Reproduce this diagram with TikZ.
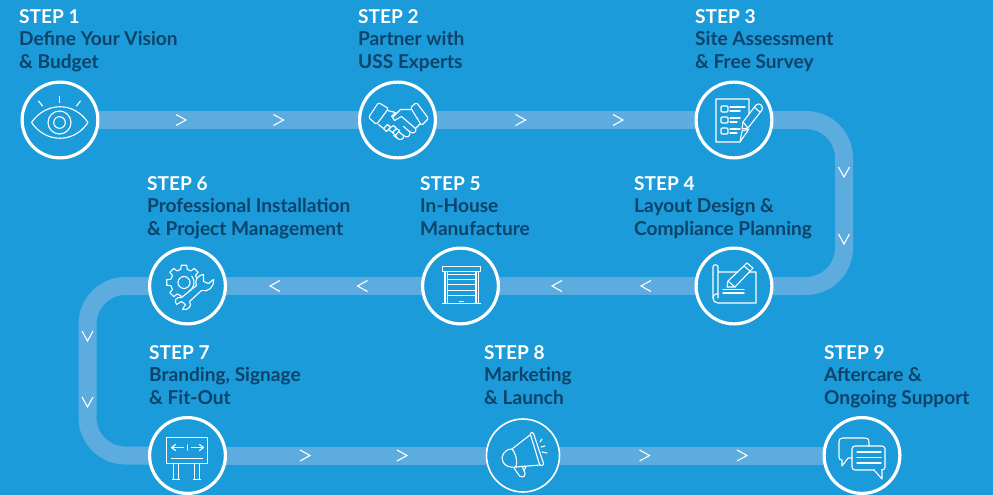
\documentclass[tikz,border=0pt]{standalone}
\usepackage{xcolor}
\definecolor{StepBlue}{HTML}{1B9BD9}
\definecolor{TrackBlue}{HTML}{5DACE0}
\definecolor{StepDark}{HTML}{0C436B}
\usepackage{fontspec}
\setmainfont{Lato}
\usepackage{tikz}
\usetikzlibrary{backgrounds}
\tikzset{
	stepcircle/.style={circle,draw=white,fill=StepBlue,line width=3.2pt,minimum size=75.8pt,inner sep=0pt},
	thincircle/.style={stepcircle,line width=1.6pt,minimum size=73pt},
	steptext/.style={anchor=north west,align=left,inner sep=0pt,text=StepDark,font=\fontsize{19.1}{22.5}\selectfont\bfseries},
	track/.style={draw=TrackBlue,line width=18pt,shorten <=-1pt,shorten >=-1pt},
	icon/.style={draw=white,line width=1.1pt,line join=round,line cap=round},
	pics/chevron/.style={code={\draw[white,line width=1.1pt] (-5,-5.5) -- (5,0) -- (-5,5.5);}},
	pics/iconeye/.style={code={
		\draw[icon] (-28.5,3) .. controls (-14,-18) and (14,-18) .. (28,3) .. controls (14,24) and (-14,24) .. cycle;
		\draw[icon] (-0.5,3) circle (11.5);
		\draw[icon] (-0.5,3) circle (5.8);
		\draw[icon] (-0.5,-23) -- (-0.5,-17);
		\draw[icon] (-21.5,-18.5) -- (-17.5,-13.5);
		\draw[icon] (20.5,-18.5) -- (16.5,-13.5);
	}},
	pics/iconhands/.style={code={
		\draw[icon,rounded corners=1.5pt] (-19,-17) -- (-9,-11) -- (-21,5) -- (-29,-2) -- cycle;
		\draw[icon,rounded corners=1.5pt] (13,-12) -- (19,-17) -- (31,-1) -- (24,6) -- cycle;
		\draw[icon] (-10,-9) -- (-2,-7) -- (-6,-3);
		\draw[icon] (13,-10) -- (3,-10) -- (-5,-2) -- (-3,1) -- (4,-3) -- (18,9) -- (23,4);
		\draw[icon] (18,9) .. controls (20,13) and (15,15) .. (12,12) -- (6,7);
		\draw[icon] (12,12) .. controls (14,17) and (9,19) .. (6,16) -- (1,12);
		\draw[icon] (6,16) .. controls (7,20) and (2,21) .. (0,19) -- (-4,16);
		\draw[icon] (-19,5) -- (-14,9);
		\draw[icon] (-14,9) -- (-10,5) -- (-7,8) -- (-11,12) -- cycle;
		\draw[icon] (-7,8) -- (-4,6) -- (-1,9) -- (-5,13) -- (-9,10);
		\draw[icon] (-1,9) -- (2,11) -- (-2,16) -- (-5,13);
		\draw[icon] (-2,16) -- (0,19);
	}},
	pics/iconlist/.style={code={
		\draw[icon] (15,-5) -- (15,-20) -- (-18,-20) -- (-18,23) -- (6,23) -- (15,10) -- (8,12) -- (6,23);
		\foreach \ypos in {-13,-2,9} {
			\draw[icon,rounded corners=1pt] (-13,\ypos) rectangle (-6,\ypos+6);
		}
		\draw[icon] (-4,-12) -- (11,-12);
		\draw[icon] (-4,-8) -- (6,-8);
		\draw[icon] (-4,-1) -- (6,-1);
		\draw[icon] (-4,3) -- (3,3);
		\draw[icon] (-4,10) -- (6,10);
		\draw[icon] (-4,14) -- (3,14);
		\draw[icon,fill=StepBlue] (8,10) -- (9,3) -- (22,-14) .. controls (25,-17) and (30,-13) .. (28,-9) -- (14,9) -- cycle;
		\draw[icon] (9,3) -- (14,9);
		\draw[icon] (20,-12) -- (26,-7);
	}},
	pics/iconplan/.style={code={
		\draw[icon] (-16,8) -- (-16,-19) .. controls (-16,-22) and (-21,-22) .. (-21,-19) -- (-21,12) .. controls (-21,15) and (-19,17) .. (-16,17) -- (22,17) -- (22,-14) -- (-16,-14);
		\draw[icon] (-21,12) .. controls (-21,9) and (-17,7) .. (-16,8) -- (-16,12);
		\draw[icon,fill=StepBlue] (-7,1) -- (-6,-5) -- (13,-23) -- (19,-18) -- (1,1) -- cycle;
		\draw[icon] (-6,-5) -- (1,1);
		\draw[icon] (10,-20) -- (16,-15);
		\draw[icon] (-11,3.5) -- (10,3.5);
		\draw[icon] (-11,7) -- (10,7);
	}},
	pics/icondoor/.style={code={
		\draw[icon] (-18,-19) rectangle (20,-14);
		\draw[icon] (-15.5,-14) -- (-15.5,18);
		\draw[icon] (18,-14) -- (18,18);
		\draw[icon] (-18,18) -- (20,18);
		\draw[icon] (-13,-14) -- (-13,18);
		\draw[icon] (15.5,-14) -- (15.5,18);
		\foreach \ypos in {-11,-6,-1,5,10} {
			\draw[icon] (-13,\ypos) -- (15.5,\ypos);
		}
		\draw[icon] (-1,16) -- (3,16);
	}},
	pics/icongear/.style={code={
		\begin{scope}[shift={(-3.5,-3)}]
			\foreach \ang in {0,45,...,315} {
				\draw[icon] (\ang-14:13.5) -- (\ang-9:17.5) -- (\ang+9:17.5) -- (\ang+14:13.5) -- (\ang+31:13.5);
			}
			\draw[icon] (0,0) circle (6);
			\draw[icon] (-40:10) arc (-40:60:10);
		\end{scope}
		\draw[icon,fill=StepBlue] (16,-11) .. controls (9,-10) and (7,-4) .. (9,0) -- (-6,12) .. controls (-11,11) and (-14,15) .. (-11,19) -- (-6,16) -- (-2,19) -- (-5,24) .. controls (1,25) and (5,20) .. (2,16) -- (14,5) .. controls (20,7) and (27,2) .. (26,-6) -- (21,-2) -- (16,-4) -- cycle;
	}},
	pics/iconsign/.style={code={
		\draw[icon] (-21,-18) rectangle (20,8);
		\draw[icon] (-16,3) -- (15,3);
		\draw[icon] (-16,-8) -- (-4,-8);
		\draw[icon] (-12,-11) -- (-16,-8) -- (-12,-5);
		\draw[icon] (4,-8) -- (16,-8);
		\draw[icon] (12,-11) -- (16,-8) -- (12,-5);
		\draw[icon] (0,-10.5) -- (0,-5.5);
		\foreach \xpos in {-14,7} {
			\draw[icon] (\xpos,8) -- (\xpos,24);
			\draw[icon] (\xpos+5,8) -- (\xpos+5,24);
			\draw[icon] (\xpos-1,24) -- (\xpos+6,24);
		}
	}},
	pics/iconhorn/.style={code={
		\draw[icon,rounded corners=2pt] (6,-22) -- (9,-23) -- (20,10) -- (16,11) -- cycle;
		\draw[icon] (6,-20) -- (-12,-6) .. controls (-20,-6) and (-24,2) .. (-21,7) .. controls (-19,11) and (-14,13) .. (-8,12) -- (16,10);
		\draw[icon] (-12,-6) .. controls (-9,-3) and (-6,5) .. (-8,12);
		\draw[icon,rounded corners=2pt] (-10,13) -- (-3,23) -- (2,20) -- (-2,11);
		\draw[icon] (0,16) -- (2,11);
		\draw[icon] (16,-13) -- (18,-16);
		\draw[icon] (17,-8) -- (21,-9);
		\draw[icon] (18,-3) -- (23,-2);
	}},
	pics/iconchat/.style={code={
		\draw[icon] (7,-9) -- (7,-13) .. controls (7,-16) and (6,-17) .. (3,-17) -- (-19,-17) .. controls (-22,-17) and (-23,-16) .. (-23,-13) -- (-23,2) .. controls (-23,4) and (-22,5) .. (-20,5) -- (-20,11) -- (-14,3) -- (-10,3);
		\draw[icon,rounded corners=3pt] (-10,-9) rectangle (23,15);
		\draw[icon,fill=StepBlue] (12,15) -- (20,24) -- (20,15);
		\draw[StepBlue,line width=1.4pt] (13,15) -- (19,15);
		\foreach \ypos in {-3,2.5,8} {
			\draw[icon] (-5,\ypos) -- (19,\ypos);
		}
	}}
}

\begin{document}
\begin{tikzpicture}[x=1pt,y=-1pt]
		\useasboundingbox (0,0) rectangle (993,495);
		
		\node[stepcircle] (circle1) at (60,120) {};
		\node[stepcircle] (circle2) at (397.5,120) {};
		\node[stepcircle] (circle3) at (734,120) {};
		\node[stepcircle] (circle4) at (734,286) {};
		\node[stepcircle] (circle5) at (460.5,286) {};
		\node[stepcircle] (circle6) at (187.5,286) {};
		\node[stepcircle] (circle7) at (187.5,455.5) {};
		\node[thincircle] (circle8) at (523,455.5) {};
		\node[stepcircle] (circle9) at (862,455.5) {};
		
		\coordinate (cornerA) at (844,120);
		\coordinate (cornerB) at (844,286);
		\coordinate (cornerC) at (87.5,286);
		\coordinate (cornerD) at (87.5,455.5);
		
		\begin{scope}[on background layer]
			\fill[StepBlue] (0,0) rectangle (993,495);
			\draw[track] (circle1) -- (circle2);
			\draw[track] (circle2) -- (circle3);
			\draw[track,rounded corners=38pt] (circle3) -- (cornerA) -- (cornerB) -- (circle4);
			\draw[track] (circle4) -- (circle5);
			\draw[track] (circle5) -- (circle6);
			\draw[track,rounded corners=38pt] (circle6) -- (cornerC) -- (cornerD) -- (circle7);
			\draw[track] (circle7) -- (circle8);
			\draw[track] (circle8) -- (circle9);
		\end{scope}
		
		% arrows along the track
		\foreach \xpos in {181,278.5,520.5,618} \pic at (\xpos,120) {chevron};
		\foreach \xpos in {275,362.5,557,646} \pic[rotate=180] at (\xpos,286) {chevron};
		\foreach \xpos in {305,402,644.5,742} \pic at (\xpos,455.5) {chevron};
		\foreach \ypos in {172,239} \pic[rotate=-90] at (844,\ypos) {chevron};
		\foreach \ypos in {336,402} \pic[rotate=-90] at (87.5,\ypos) {chevron};
		
		\pic at (60,119.5) {iconeye};
		\pic at (397.5,119.5) {iconhands};
		\pic at (734,119) {iconlist};
		\pic at (734,286) {iconplan};
		\pic at (460.5,285.5) {icondoor};
		\pic at (187.5,285.5) {icongear};
		\pic at (187.5,455.5) {iconsign};
		\pic at (524,455) {iconhorn};
		\pic at (862,455) {iconchat};
		
		\node[steptext] (text1) at (19,9) {\textcolor{white}{STEP 1}\\Define Your Vision\\\& Budget};
		\node[steptext] (text2) at (358,9) {\textcolor{white}{STEP 2}\\Partner with\\USS Experts};
		\node[steptext] (text3) at (695,9) {\textcolor{white}{STEP 3}\\Site Assessment\\\& Free Survey};
		\node[steptext] (text4) at (634,176) {\textcolor{white}{STEP 4}\\Layout Design \&\\Compliance Planning};
		\node[steptext] (text5) at (420,176) {\textcolor{white}{STEP 5}\\In-House\\Manufacture};
		\node[steptext] (text6) at (147,176) {\textcolor{white}{STEP 6}\\Professional Installation\\\& Project Management};
		\node[steptext] (text7) at (149,345) {\textcolor{white}{STEP 7}\\Branding, Signage\\\& Fit-Out};
		\node[steptext] (text8) at (484,345) {\textcolor{white}{STEP 8}\\Marketing\\\& Launch};
		\node[steptext] (text9) at (824,345) {\textcolor{white}{STEP 9}\\Aftercare \&\\Ongoing Support};
		
	\end{tikzpicture}
\end{document}
